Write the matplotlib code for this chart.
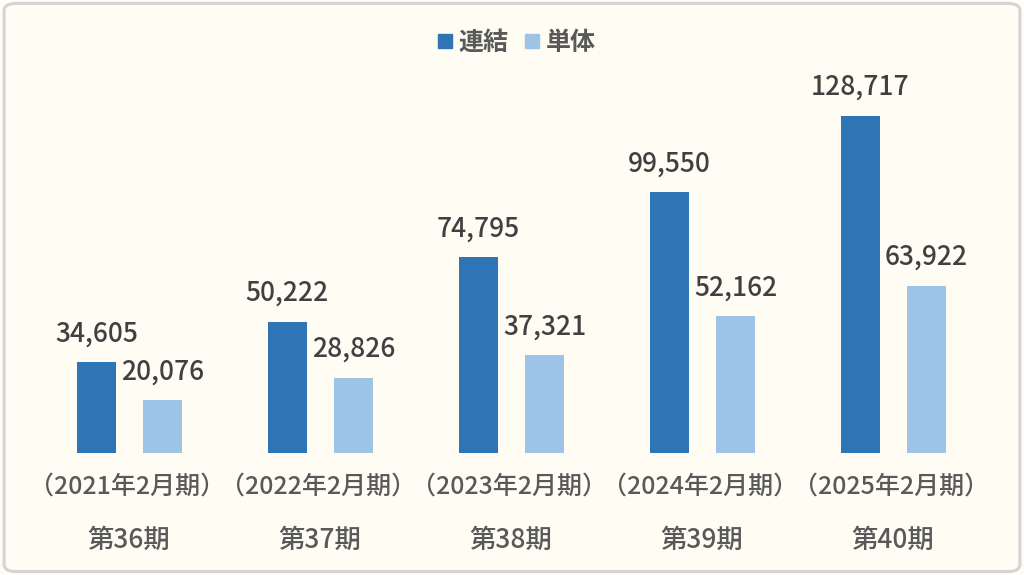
import matplotlib
matplotlib.use("Agg")
import matplotlib.pyplot as plt
import numpy as np
from matplotlib.lines import Line2D
from matplotlib.patches import FancyBboxPatch

plt.rcParams['font.family'] = ['Noto Sans CJK JP', 'DejaVu Sans']

# data
periods = ['（2021年2月期）', '（2022年2月期）', '（2023年2月期）', '（2024年2月期）', '（2025年2月期）']
terms = ['第36期', '第37期', '第38期', '第39期', '第40期']
consolidated = [34605, 50222, 74795, 99550, 128717]
standalone = [20076, 28826, 37321, 52162, 63922]
series_names = ['連結', '単体']

dark = '#2E75B6'
light = '#9DC3E6'
bg = '#FEFCF3'
text_col = '#595959'
label_col = '#404040'

W, H = 1024, 575
fig = plt.figure(figsize=(W / 100, H / 100), dpi=100, facecolor=bg)

# rounded frame
frame = FancyBboxPatch((0.004, 0.006), 0.992, 0.988, boxstyle="round,pad=0,rounding_size=0.012",
                       transform=fig.transFigure, facecolor='none', edgecolor='#D4D4D4',
                       linewidth=2.2, zorder=-1)
fig.patches.append(frame)

ax_left, ax_right = 34 / W, 989 / W
ax_bottom, ax_top = 122 / H, (575 - 86.5) / H
ax = fig.add_axes([ax_left, ax_bottom, ax_right - ax_left, ax_top - ax_bottom])
ax.set_facecolor('none')

x = np.arange(len(periods))
bw = 0.204
off = 0.173
b1 = ax.bar(x - off, consolidated, bw, color=dark)
b2 = ax.bar(x + off, standalone, bw, color=light)
ax.set_xlim(-0.5, len(periods) - 0.5)
ax.set_ylim(0, 140000)

for bars, vals in ((b1, consolidated), (b2, standalone)):
    for rect, v in zip(bars, vals):
        ax.annotate(f"{v:,}", xy=(rect.get_x() + rect.get_width() / 2, v),
                    xytext=(0, 21), textcoords='offset pixels',
                    ha='center', va='baseline', fontsize=19, color=label_col,
                    fontweight='medium')

for i in x:
    ax.annotate(periods[i], xy=(i, 0), xycoords=('data', 'axes fraction'),
                xytext=(-2, -34), textcoords='offset pixels',
                ha='center', va='center', fontsize=18, color=text_col, fontweight='medium')
    ax.annotate(terms[i], xy=(i, 0), xycoords=('data', 'axes fraction'),
                xytext=(-1, -87), textcoords='offset pixels',
                ha='center', va='center', fontsize=19, color=text_col, fontweight='medium')

ax.set_xticks([])
ax.set_yticks([])
for s in ax.spines.values():
    s.set_visible(False)

handles = [Line2D([], [], marker='s', linestyle='none', markersize=9.4, color=c) for c in (dark, light)]
fig.legend(handles, series_names, loc='center', bbox_to_anchor=(516 / W, 1 - 43 / H),
           ncol=2, frameon=False, handletextpad=0.2, columnspacing=0.6, handlelength=0.7,
           prop={'size': 18, 'weight': 'bold'}, labelcolor=text_col)

fig.savefig('out.png', dpi=100, facecolor=bg)
